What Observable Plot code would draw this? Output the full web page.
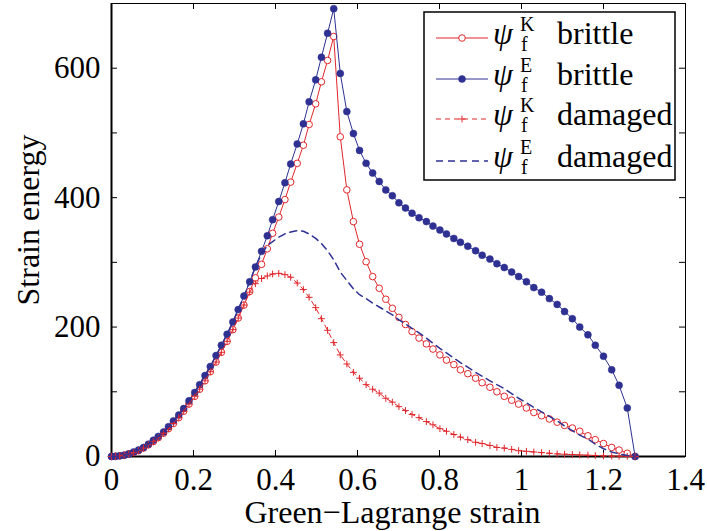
<!DOCTYPE html>
<html><head><meta charset="utf-8">
<script src="https://cdn.jsdelivr.net/npm/d3@7"></script>
<script src="https://cdn.jsdelivr.net/npm/@observablehq/plot@0.6"></script>
<style>
body{margin:0;background:#fff;}
#wrap{position:relative;width:707px;height:531px;overflow:hidden;}
#legend{position:absolute;left:0;top:0;pointer-events:none;}
</style></head><body><div id="wrap"></div>
<script>
// Green-Lagrange strain (x) shared by all four series
const strain = [0, 0.010, 0.020, 0.031, 0.042, 0.054, 0.066, 0.078, 0.090, 0.102, 0.114, 0.127, 0.139, 0.151, 0.164, 0.176, 0.189,
  0.203, 0.215, 0.228, 0.241, 0.255, 0.268, 0.282, 0.296, 0.309, 0.323, 0.337, 0.351, 0.366, 0.380, 0.393, 0.408, 0.423, 0.437, 0.453, 0.468,
  0.482, 0.498, 0.512, 0.527, 0.542, 0.558, 0.574, 0.590, 0.605, 0.621, 0.637, 0.653, 0.669, 0.685, 0.701, 0.717, 0.733, 0.750, 0.768, 0.784,
  0.801, 0.817, 0.835, 0.851, 0.869, 0.888, 0.904, 0.923, 0.940, 0.958, 0.976, 0.993, 1.012, 1.030, 1.049, 1.068, 1.087, 1.105, 1.124, 1.142,
  1.162, 1.180, 1.200, 1.220, 1.238, 1.258, 1.277];
// psi_f^K brittle
const psiKBrittle = [0, 0.3, 1, 2, 4, 6, 9, 13, 18, 23, 29, 36, 43, 51, 60, 70, 81,
  93, 104, 117, 131, 146, 161, 178, 196, 214, 234, 255, 276, 297, 321, 345, 370, 397, 424, 453, 481,
  513, 545, 579, 612, 649, 494, 412, 363, 328, 301, 278, 260, 243, 229, 215, 204, 193, 183, 174, 166,
  157, 149, 142, 134, 128, 121, 114, 107, 100, 93, 87, 81, 75, 68, 63, 58, 53, 48, 44, 39,
  32, 26, 20, 14, 10, 5, 0];
// psi_f^E brittle
const psiEBrittle = [0, 0.3, 1, 2, 4, 7, 10, 14, 19, 25, 31, 38, 46, 55, 64, 74, 86,
  99, 111, 125, 139, 156, 172, 189, 208, 227, 248, 270, 293, 317, 341, 366, 394, 423, 452, 483, 514,
  548, 582, 617, 654, 692, 592, 533, 499, 473, 453, 438, 425, 412, 403, 392, 384, 376, 369, 363, 356,
  350, 344, 337, 331, 325, 318, 311, 305, 298, 292, 285, 278, 270, 261, 254, 244, 235, 224, 213, 200,
  188, 172, 155, 134, 110, 75, 0];
// psi_f^K damaged
const psiKDamaged = [0, 0.3, 1, 2, 4, 6, 9, 13, 18, 23, 29, 36, 43, 51, 60, 70, 81,
  93, 104, 117, 131, 146, 161, 178, 196, 214, 234, 254, 267, 275, 279, 282, 283, 281, 277, 268, 258,
  246, 230, 213, 195, 176, 157, 143, 130, 121, 111, 104, 98, 90, 84, 77, 71, 65, 60, 54, 49,
  43, 39, 34, 30, 26, 22, 20, 17, 14, 13, 11, 9, 8, 7, 6, 5, 4, 3.5, 3, 2.5,
  2, 1.5, 1, 0.7, 0.5, 0.3, 0];
// psi_f^E damaged
const psiEDamaged = [0, 0.3, 1, 2, 4, 7, 10, 14, 19, 25, 31, 38, 46, 55, 64, 74, 86,
  99, 111, 125, 139, 156, 172, 189, 208, 227, 248, 270, 293, 313, 326, 332, 339, 344, 347, 349, 348,
  344, 337, 329, 318, 304, 285, 272, 259, 250, 244, 237, 231, 225, 219, 211, 205, 198, 191, 183, 175,
  167, 160, 152, 145, 138, 130, 124, 117, 111, 105, 97, 90, 83, 76, 69, 62, 55, 47, 40, 33,
  27, 19, 12, 7, 4, 1.5, 0];

const xTicks = [0, 0.2, 0.4, 0.6, 0.8, 1, 1.2, 1.4];
const yTickLabels = [0, 200, 400, 600];
const yTickMarks = [100, 200, 300, 400, 500, 600];
const xLabel = "Green\u2212Lagrange strain";
const yLabel = "Strain energy";
const legendSymbols = ["K", "E", "K", "E"];
const legendWords = ["brittle", "brittle", "damaged", "damaged"];

const RED = "#e0262b";
const BLUE = "#2e3192";
const SERIF = "'Liberation Serif', 'Times New Roman', serif";
const X_DOMAIN = [0, 1.4];
const Y_DOMAIN = [0, 700];
const W = 707, H = 531, ML = 111, MR = 22, MT = 3, MB = 75;

const rows = (ys) => strain.map((x, i) => ({x, y: ys[i]}));
const kB = rows(psiKBrittle), eB = rows(psiEBrittle), kD = rows(psiKDamaged), eD = rows(psiEDamaged);

const plusSymbol = {draw(ctx, size) { const r = Math.sqrt(size / Math.PI); ctx.moveTo(-r, 0); ctx.lineTo(r, 0); ctx.moveTo(0, -r); ctx.lineTo(0, r); }};

// tick lengths in data units (6 px)
const tickY = (Y_DOMAIN[1] - Y_DOMAIN[0]) * 6 / (H - MT - MB);
const tickX = (X_DOMAIN[1] - X_DOMAIN[0]) * 6 / (W - ML - MR);

const chart = Plot.plot({
  width: W, height: H,
  marginLeft: ML, marginRight: MR, marginTop: MT, marginBottom: MB,
  style: {fontFamily: SERIF, fontSize: "31px", background: "white", color: "black"},
  x: {domain: X_DOMAIN},
  y: {domain: Y_DOMAIN},
  marks: [
    Plot.frame({stroke: "black", strokeWidth: 1}),
    Plot.ruleX([X_DOMAIN[0]], {stroke: "black", strokeWidth: 2}),
    Plot.ruleY([Y_DOMAIN[0]], {stroke: "black", strokeWidth: 2}),
    // inward ticks
    Plot.ruleX(xTicks, {x: d => d, y1: Y_DOMAIN[0], y2: Y_DOMAIN[0] + tickY, stroke: "black", strokeWidth: 1}),
    Plot.ruleX(xTicks, {x: d => d, y1: Y_DOMAIN[1], y2: Y_DOMAIN[1] - tickY, stroke: "black", strokeWidth: 1}),
    Plot.ruleY(yTickMarks, {y: d => d, x1: X_DOMAIN[0], x2: X_DOMAIN[0] + tickX, stroke: "black", strokeWidth: 1}),
    Plot.ruleY(yTickMarks, {y: d => d, x1: X_DOMAIN[1], x2: X_DOMAIN[1] - tickX, stroke: "black", strokeWidth: 1}),
    Plot.axisX(xTicks, {tickSize: 0, tickPadding: 11, tickFormat: d => String(d), label: null}),
    Plot.axisY(yTickLabels, {tickSize: 0, tickPadding: 11, tickFormat: d => String(d), label: null}),
    Plot.text([xLabel], {text: d => d, frameAnchor: "bottom", lineAnchor: "middle", textAnchor: "middle", dy: 56, dx: -6, fontSize: 32}),
    Plot.text([yLabel], {text: d => d, frameAnchor: "left", lineAnchor: "middle", textAnchor: "middle", rotate: -90, dx: -83, dy: -10, fontSize: 32}),
    // psi_f^K brittle
    Plot.line(kB, {x: "x", y: "y", stroke: RED, strokeWidth: 1}),
    Plot.dot(kB, {x: "x", y: "y", r: 3.3, stroke: RED, fill: "white", strokeWidth: 1}),
    // psi_f^E brittle
    Plot.line(eB, {x: "x", y: "y", stroke: BLUE, strokeWidth: 1}),
    Plot.dot(eB, {x: "x", y: "y", r: 3.5, fill: BLUE, stroke: BLUE, strokeWidth: 0.5}),
    // psi_f^K damaged
    Plot.line(kD, {x: "x", y: "y", stroke: RED, strokeWidth: 1, strokeDasharray: "5,4"}),
    Plot.dot(kD, {x: "x", y: "y", r: 3.4, symbol: plusSymbol, stroke: RED, fill: "none", strokeWidth: 1}),
    // psi_f^E damaged
    Plot.line(eD, {x: "x", y: "y", stroke: BLUE, strokeWidth: 1.5, strokeDasharray: "7,5"})
  ]
});
const wrap = document.getElementById("wrap");
wrap.appendChild(chart);

// Legend (inside the axes, top right)
const NS = "http://www.w3.org/2000/svg";
const lg = document.createElementNS(NS, "svg");
lg.setAttribute("id", "legend");
lg.setAttribute("width", W); lg.setAttribute("height", H);
function el(tag, attrs, text, parent = lg) {
  const e = document.createElementNS(NS, tag);
  for (const k in attrs) e.setAttribute(k, attrs[k]);
  if (text != null) { e.textContent = text; }
  parent.appendChild(e);
  return e;
}
el("rect", {x: 424, y: 12, width: 251, height: 168, fill: "white", stroke: "black", "stroke-width": 1.5});
const rowY = [38, 79, 119, 161];
const styles = [
  {stroke: RED, dash: null, marker: "open"},
  {stroke: BLUE, dash: null, marker: "filled"},
  {stroke: RED, dash: "5,4", marker: "plus"},
  {stroke: BLUE, dash: "7,5", marker: null}
];
rowY.forEach((cy, i) => {
  const s = styles[i];
  const ln = {x1: 436, x2: 488, y1: cy, y2: cy, stroke: s.stroke, "stroke-width": i === 3 ? 1.5 : 1};
  if (s.dash) ln["stroke-dasharray"] = s.dash;
  el("line", ln);
  if (s.marker === "open") el("circle", {cx: 462, cy, r: 3.3, fill: "white", stroke: RED, "stroke-width": 1});
  if (s.marker === "filled") el("circle", {cx: 462, cy, r: 3.5, fill: BLUE, stroke: BLUE, "stroke-width": 0.5});
  if (s.marker === "plus") el("path", {d: `M458.6,${cy}H465.4M462,${cy - 3.4}V${cy + 3.4}`, stroke: RED, "stroke-width": 1, fill: "none"});
  // psi with stacked superscript / subscript, in one text element
  const t = el("text", {"font-family": SERIF, fill: "black"});
  el("tspan", {x: 493, y: cy + 6, "font-size": 32, "font-style": "italic"}, "\u03C8", t);
  el("tspan", {x: 520, y: cy - 7, "font-size": 20}, legendSymbols[i], t);
  el("tspan", {x: 521, y: cy + 13, "font-size": 20}, "f", t);
  el("text", {x: 557, y: cy + 6, "font-size": 32, "font-family": SERIF, fill: "black"}, legendWords[i]);
});
wrap.appendChild(lg);
</script>
</body></html>
